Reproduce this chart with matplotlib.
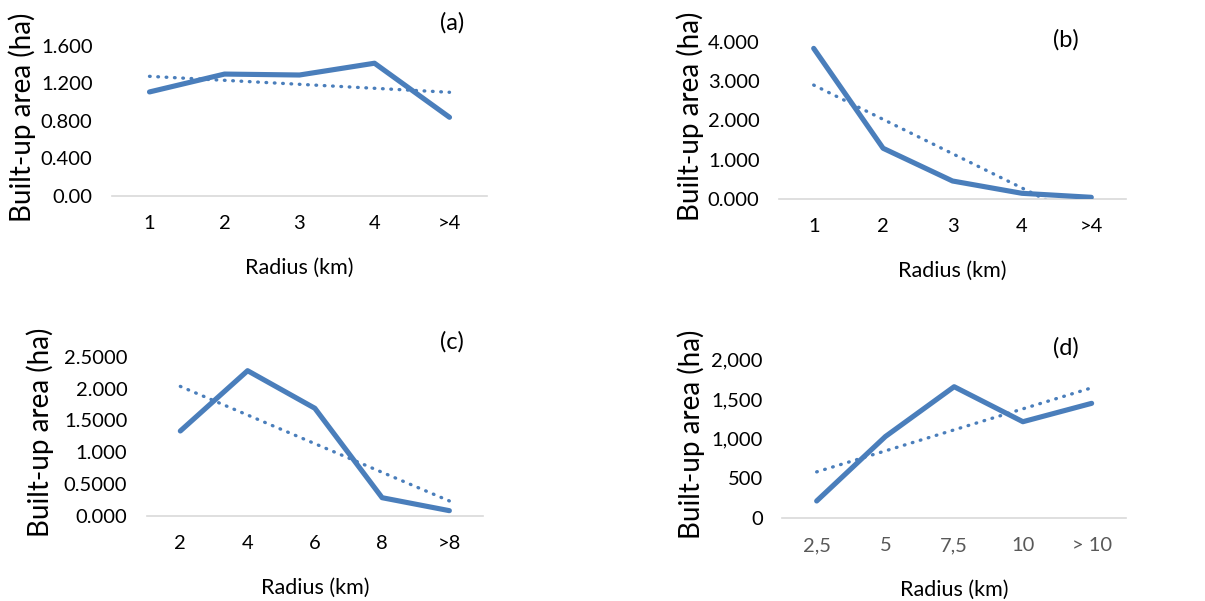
import numpy as np
import matplotlib.pyplot as plt
import matplotlib.ticker as mticker

plt.rcParams['font.family'] = ['Lato', 'DejaVu Sans']

# panel data
cats_a = ['1', '2', '3', '4', '>4']
vals_a = [1.109, 1.300, 1.290, 1.416, 0.838]
yt_a = [0.0, 0.4, 0.8, 1.2, 1.6]
ytl_a = ['0.00', '0.400', '0.800', '1.200', '1.600']

cats_b = ['1', '2', '3', '4', '>4']
vals_b = [3.83, 1.29, 0.458, 0.145, 0.043]
yt_b = [0, 1, 2, 3, 4]
ytl_b = ['0.000', '1.000', '2.000', '3.000', '4.000']

cats_c = ['2', '4', '6', '8', '>8']
vals_c = [1.332, 2.280, 1.689, 0.283, 0.079]
yt_c = [0.0, 0.5, 1.0, 1.5, 2.0, 2.5]
ytl_c = ['0.000', '0.5000', '1.000', '1.5000', '2.000', '2.5000']

cats_d = ['2,5', '5', '7,5', '10', '> 10']
vals_d = [211, 1025, 1654, 1212, 1444]
yt_d = [0, 500, 1000, 1500, 2000]
ytl_d = ['0', '500', '1,000', '1,500', '2,000']

W, H = 1205, 601
BLUE = '#4a7ebb'

fig = plt.figure(figsize=(W / 100, H / 100), dpi=100)


def panel(rect, cats, vals, yt, ytl, tag, tag_xy, ylab_x, xtick_color='black'):
    # rect in pixels: left, top, right, bottom
    l, t, r, b = rect
    ax = fig.add_axes([l / W, 1 - b / H, (r - l) / W, (b - t) / H])
    x = np.arange(len(cats))
    ax.plot(x, vals, color=BLUE, lw=3.7, solid_capstyle='round', solid_joinstyle='round', zorder=3)
    # linear trendline (as Excel does)
    k, c = np.polyfit(x + 1, vals, 1)
    ax.plot(x, k * (x + 1) + c, color=BLUE, lw=2.4, linestyle=(0, (0.2, 2.3)),
            dash_capstyle='round', zorder=2)
    ax.set_xlim(-0.5, len(cats) - 0.5)
    ax.set_ylim(yt[0], yt[-1])
    ax.set_xticks(x)
    ax.set_xticklabels(cats, color=xtick_color)
    ax.yaxis.set_major_locator(mticker.FixedLocator(yt))
    ax.yaxis.set_major_formatter(mticker.FixedFormatter(ytl))
    for s in ['top', 'right', 'left']:
        ax.spines[s].set_visible(False)
    ax.spines['bottom'].set_color('#d9d9d9')
    ax.spines['bottom'].set_linewidth(1.2)
    ax.tick_params(axis='x', length=0, pad=14, labelsize=14.5)
    ax.tick_params(axis='y', length=0, pad=14, labelsize=14.5)
    ax.patch.set_alpha(0)
    fig.text((l + r) / 2 / W, 1 - (b + 72) / H, 'Radius (km)', ha='center', va='center', fontsize=15.5)
    fig.text(ylab_x / W, 1 - (b - (b - t) / 2 - 4) / H, 'Built-up area (ha)', rotation=90,
             ha='center', va='center', fontsize=20)
    fig.text(tag_xy[0] / W, 1 - tag_xy[1] / H, tag, ha='center', va='center', fontsize=17)
    return ax


panel((112, 46, 487, 195.7), cats_a, vals_a, yt_a, ytl_a, '(a)', (452, 23), 22)
panel((779, 41.7, 1126, 199), cats_b, vals_b, yt_b, ytl_b, '(b)', (1066, 40), 690)
panel((146.7, 356.7, 483, 515.7), cats_c, vals_c, yt_c, ytl_c, '(c)', (452, 342), 40)
panel((782.3, 359.3, 1126, 517.7), cats_d, vals_d, yt_d, ytl_d, '(d)', (1066, 348), 691,
      xtick_color='#595959')

fig.savefig('out.png', dpi=100)
